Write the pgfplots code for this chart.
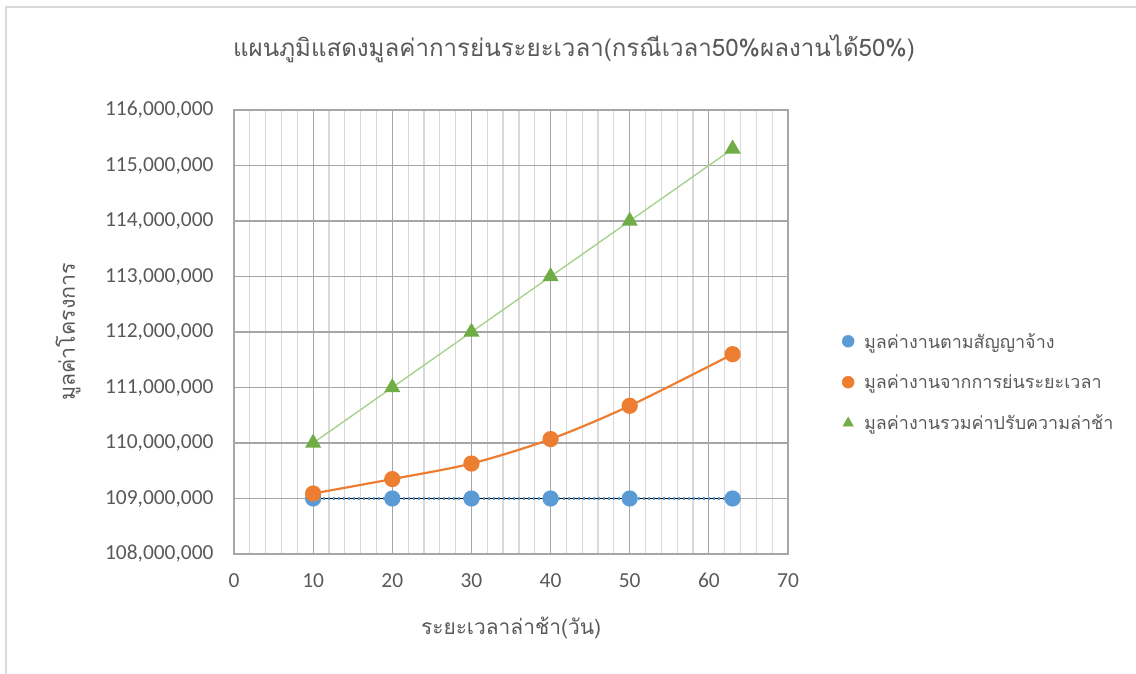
\documentclass[border=0pt]{standalone}
\usepackage{fontspec}
\setmainfont{Carlito}
\newfontfamily\thai[Script=Thai]{Loma}
\usepackage{pgfplots}
\pgfplotsset{compat=1.18}
\definecolor{tickgray}{HTML}{595959}
\definecolor{majgrid}{HTML}{A6A6A6}
\definecolor{mingrid}{HTML}{D9D9D9}
\definecolor{sblue}{HTML}{5B9BD5}
\definecolor{sorange}{HTML}{ED7D31}
\definecolor{sgreen}{HTML}{70AD47}
\definecolor{sgreenline}{HTML}{A9D18E}
\begin{document}
\begin{tikzpicture}[x=1bp,y=1bp]
\path[use as bounding box] (0,0) rectangle (1136,674);
\draw[color=mingrid, line width=2bp] (6,0) -- (6,667) -- (1136,667);
\begin{axis}[
  at={(234bp,120bp)}, anchor=south west,
  scale only axis, width=554bp, height=444bp,
  xmin=0, xmax=70, ymin=108000000, ymax=116000000,
  xtick={0,10,20,30,40,50,60,70},
  ytick={108000000,109000000,110000000,111000000,112000000,113000000,114000000,115000000,116000000},
  minor x tick num=4,
  grid=major, xminorgrids=true,
  major grid style={color=majgrid, line width=1.2bp},
  minor grid style={color=mingrid, line width=1.2bp},
  axis line style={color=majgrid, line width=1.2bp},
  major tick length=0pt, minor tick length=0pt,
  scaled y ticks=false,
  /pgf/number format/assume math mode=true,
  yticklabel={\pgfmathprintnumber[fixed,precision=0,1000 sep={,}]{\tick}},
  tick label style={font=\fontsize{21.5}{25}\selectfont, text=tickgray},
  yticklabel style={xshift=-17bp},
  xticklabel style={yshift=-16bp},
  title={\thai\fontsize{24.2}{29}\selectfont แผนภูมิแสดงมูลค่าการย่นระยะเวลา(กรณีเวลา50\%ผลงานได้50\%)},
  title style={at={(axis description cs:0.6137,1.1239)}, anchor=center, text=tickgray},
  xlabel={\thai\fontsize{21}{25}\selectfont ระยะเวลาล่าช้า(วัน)},
  xlabel style={at={(axis description cs:0.5,-0.1667)}, anchor=center, text=tickgray},
  ylabel={\thai\fontsize{21.5}{25}\selectfont มูลค่าโครงการ},
  ylabel style={at={(axis description cs:-0.2996,0.5)}, anchor=center, rotate=0, text=tickgray},
  legend style={at={(axis description cs:1.092,0.387)}, anchor=west, draw=none, fill=none,
    font=\thai\fontsize{18}{22}\selectfont, text=tickgray, row sep=21bp,
    /tikz/every even column/.append style={column sep=4bp},
    /tikz/every odd column/.append style={column sep=8bp}},
  legend cell align=left,
  clip=false,
]
% blue: contract value
\addplot[color=black, line width=1.2bp, forget plot] coordinates {(10,109000000) (63,109000000)};
\addplot[color=sblue, line width=2.2bp, dash pattern=on 2bp off 3bp, mark=*, mark size=7bp,
  mark options={solid, fill=sblue, draw=sblue}, forget plot]
  coordinates {(10,109000000) (20,109000000) (30,109000000) (40,109000000) (50,109000000) (63,109000000)};
% orange: compressed schedule value
\addplot[color=sorange, line width=2.2bp, smooth, mark=*, mark size=7bp,
  mark options={fill=sorange, draw=sorange}, forget plot]
  coordinates {(10,109090000) (20,109350000) (30,109630000) (40,110070000) (50,110670000) (63,111600000)};
% green: total including penalty
\addplot[color=sgreenline, line width=1.4bp, mark=triangle*, mark size=8bp,
  mark options={fill=sgreen, draw=sgreen}, forget plot]
  coordinates {(10,110000000) (20,111000000) (30,112000000) (40,113000000) (50,114000000) (63,115300000)};
\addlegendimage{only marks, mark=*, mark size=6bp, mark options={fill=sblue, draw=sblue}}
\addlegendentry{มูลค่างานตามสัญญาจ้าง}
\addlegendimage{only marks, mark=*, mark size=6bp, mark options={fill=sorange, draw=sorange}}
\addlegendentry{มูลค่างานจากการย่นระยะเวลา}
\addlegendimage{only marks, mark=triangle*, mark size=6bp, mark options={fill=sgreen, draw=sgreen}}
\addlegendentry{มูลค่างานรวมค่าปรับความล่าช้า}
\end{axis}
\end{tikzpicture}
\end{document}
